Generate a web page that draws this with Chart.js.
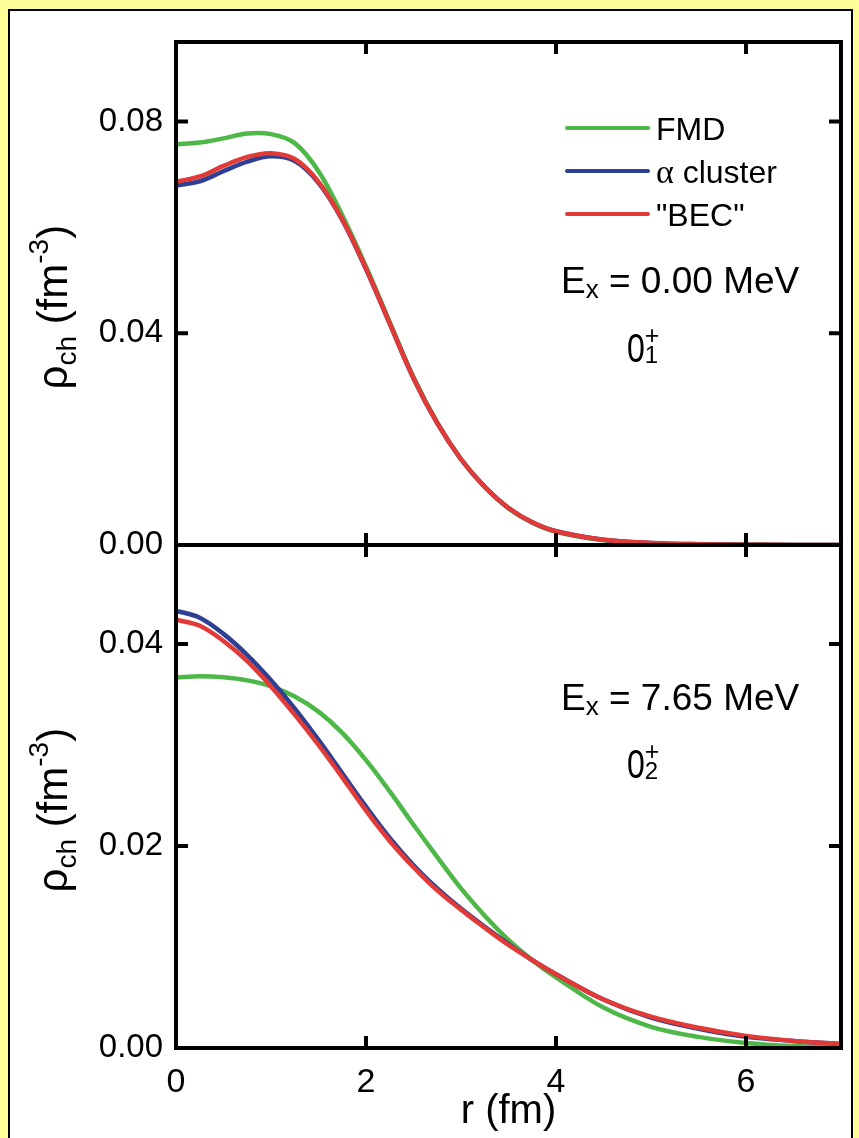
<!DOCTYPE html>
<html>
<head>
<meta charset="utf-8">
<script src="https://cdn.jsdelivr.net/npm/chart.js@4.4.1/dist/chart.umd.min.js"></script>
<style>
  html, body { margin: 0; padding: 0; }
  body { background: #ffff99; width: 859px; height: 1138px; overflow: hidden; position: relative; }
  #panel { position: absolute; left: 8px; top: 9px; width: 841px; height: 1140px; background: #fff; border: 2px solid #000; }
  canvas { position: absolute; left: 0; }
  #topChart { top: 0; }
  #botChart { top: 510px; }
</style>
</head>
<body>
<div id="panel"></div>
<canvas id="topChart" width="859" height="580"></canvas>
<canvas id="botChart" width="859" height="628"></canvas>
<script>
'use strict';

// radius in fm
const radius = [0, 0.25, 0.5, 0.75, 1, 1.25, 1.5, 1.75, 2, 2.25, 2.5, 2.75, 3, 3.25, 3.5, 3.75, 4,
  4.5, 5, 5.5, 6, 6.5, 7];

const seriesNames = ['FMD', 'α cluster', '"BEC"'];
const seriesColors = ['#4db848', '#2e3f94', '#e23a36'];

// ground state, Ex = 0.00 MeV
const fmdGround = [0.0757, 0.0760, 0.0768, 0.0777, 0.0776, 0.0759, 0.0706, 0.0623, 0.0526, 0.0421, 0.0317, 0.0231, 0.0162, 0.0109, 0.0069, 0.0042, 0.0025,
  0.0009, 0.0003, 0.0001, 0.00003, 0.00001, 0];
const alphaGround = [0.0679, 0.0687, 0.0706, 0.0724, 0.0734, 0.0725, 0.0684, 0.0614, 0.0521, 0.0418, 0.0315, 0.0230, 0.0162, 0.0110, 0.0070, 0.0043, 0.0026,
  0.0010, 0.0004, 0.00015, 0.00005, 0.00002, 0];
const becGround = [0.0686, 0.0696, 0.0716, 0.0733, 0.0740, 0.0729, 0.0686, 0.0615, 0.0522, 0.0418, 0.0315, 0.0230, 0.0162, 0.0110, 0.0070, 0.0043, 0.0026,
  0.0010, 0.0004, 0.00015, 0.00005, 0.00002, 0];

// Hoyle state, Ex = 7.65 MeV
const fmdHoyle = [0.0367, 0.0368, 0.0367, 0.0364, 0.0358, 0.0348, 0.0333, 0.0312, 0.0285, 0.0254, 0.0221, 0.0189, 0.0158, 0.0131, 0.0107, 0.0087, 0.0070,
  0.0040, 0.0021, 0.0011, 0.0005, 0.0002, 0.0001];
const alphaHoyle = [0.0433, 0.0426, 0.0410, 0.0389, 0.0364, 0.0336, 0.0305, 0.0272, 0.0239, 0.0208, 0.0181, 0.0158, 0.0138, 0.0120, 0.0103, 0.0087, 0.0073,
  0.0048, 0.0030, 0.0019, 0.0011, 0.0007, 0.0004];
const becHoyle = [0.0424, 0.0418, 0.0403, 0.0383, 0.0358, 0.0330, 0.0300, 0.0268, 0.0235, 0.0205, 0.0179, 0.0156, 0.0137, 0.0119, 0.0102, 0.0087, 0.0073,
  0.0048, 0.0031, 0.0020, 0.0012, 0.0007, 0.0004];

const xTicks = [0, 2, 4, 6];
const topTicks = [0, 0.04, 0.08];
const botTicks = [0, 0.02, 0.04];
const energies = ['0.00', '7.65'];
const stateIndex = ['1', '2'];

const SANS = "'Liberation Sans', Arial, Helvetica, sans-serif";
const SERIF = "'Liberation Serif', 'Times New Roman', serif";
Chart.defaults.font.family = SANS;
Chart.defaults.color = '#000';

// draw a row of text pieces (sub/superscripts, mixed fonts)
function drawRich(ctx, x, y, parts) {
  let cx = x;
  parts.forEach(p => {
    ctx.save();
    ctx.font = p.size + 'px ' + (p.family || SANS);
    const w = ctx.measureText(p.t).width * (p.sx || 1);
    ctx.translate(cx, y + (p.dy || 0));
    ctx.scale(p.sx || 1, 1);
    ctx.fillText(p.t, 0, 0);
    ctx.restore();
    if (!p.stay) cx += w;
  });
}

const decoPlugin = {
  id: 'deco',
  afterDraw(chart, args, opts) {
    const ctx = chart.ctx;
    const a = chart.chartArea;
    const xs = chart.scales.x, ys = chart.scales.y;
    ctx.save();
    ctx.strokeStyle = '#000';
    ctx.fillStyle = '#000';
    ctx.lineWidth = 4;
    ctx.strokeRect(a.left, a.top, a.right - a.left, a.bottom - a.top);

    // inward ticks on all four sides
    ctx.beginPath();
    xTicks.forEach(v => {
      if (v <= xs.min || v >= xs.max) return;
      const px = xs.getPixelForValue(v);
      ctx.moveTo(px, a.bottom); ctx.lineTo(px, a.bottom - 12);
      ctx.moveTo(px, a.top); ctx.lineTo(px, a.top + 12);
    });
    opts.yTicks.forEach(v => {
      if (v <= ys.min || v >= ys.max) return;
      const py = ys.getPixelForValue(v);
      ctx.moveTo(a.left, py); ctx.lineTo(a.left + 12, py);
      ctx.moveTo(a.right, py); ctx.lineTo(a.right - 12, py);
    });
    ctx.stroke();

    ctx.textAlign = 'left';
    ctx.textBaseline = 'alphabetic';

    // y axis title, rotated
    const cy = (a.top + a.bottom) / 2;
    ctx.save();
    ctx.translate(67, cy + 96);
    ctx.rotate(-Math.PI / 2);
    drawRich(ctx, 0, 0, [
      {t: 'ρ', size: 42},
      {t: 'ch', size: 28, dy: 9},
      {t: ' (fm', size: 42},
      {t: '-3', size: 28, dy: -19},
      {t: ')', size: 42}
    ]);
    ctx.restore();

    // legend
    if (opts.legend) {
      chart.data.datasets.forEach((ds, i) => {
        const ly = a.top + 86 + i * 43;
        ctx.strokeStyle = ds.borderColor;
        ctx.lineWidth = 4;
        ctx.lineCap = 'round';
        ctx.beginPath();
        ctx.moveTo(a.left + 391, ly);
        ctx.lineTo(a.left + 472, ly);
        ctx.stroke();
        const parts = ds.label.startsWith('α')
          ? [{t: 'α', size: 34, family: SERIF}, {t: ds.label.slice(1), size: 32}]
          : [{t: ds.label, size: 32}];
        drawRich(ctx, a.left + 480, ly + 12, parts);
      });
    }

    // state annotation
    drawRich(ctx, a.left + 385, a.top + opts.eY, [
      {t: 'E', size: 37},
      {t: 'x', size: 26, dy: 5},
      {t: ' = ' + opts.energy + ' MeV', size: 37}
    ]);
    drawRich(ctx, a.left + 451, a.top + opts.sY, [
      {t: '0', size: 41, sx: 0.78},
      {t: '+', size: 25, dy: -18, stay: true},
      {t: opts.state, size: 24, dy: 1}
    ]);

    // x axis title
    if (opts.xTitle) {
      ctx.font = '40px ' + SANS;
      ctx.textAlign = 'center';
      ctx.textBaseline = 'middle';
      ctx.fillText('r (fm)', (a.left + a.right) / 2, a.bottom + 64);
    }
    ctx.restore();
  }
};

function makePanel(id, values, yMax, yTicks, pad, deco) {
  const showX = deco.xTitle;
  return new Chart(document.getElementById(id).getContext('2d'), {
    type: 'line',
    data: {
      datasets: seriesNames.map((name, i) => ({
        label: name,
        data: radius.map((r, k) => ({x: r, y: values[i][k]})),
        borderColor: seriesColors[i],
        borderWidth: 4.5,
        pointRadius: 0,
        fill: false,
        tension: 0.35,
        order: seriesNames.length - i
      }))
    },
    options: {
      responsive: false,
      animation: false,
      layout: {padding: pad},
      plugins: {legend: {display: false}, tooltip: {enabled: false}, deco: Object.assign({yTicks: yTicks}, deco)},
      scales: {
        x: {
          type: 'linear', min: 0, max: 7,
          afterBuildTicks: s => { s.ticks = xTicks.map(v => ({value: v})); },
          afterFit: s => { s.height = showX ? 90 : 0; },
          grid: {display: false, drawTicks: false},
          border: {display: false},
          ticks: {display: showX, font: {size: 34}, padding: 14}
        },
        y: {
          type: 'linear', min: 0, max: yMax,
          afterBuildTicks: s => { s.ticks = yTicks.map(v => ({value: v})); },
          afterFit: s => { s.width = 176; },
          grid: {display: false, drawTicks: false},
          border: {display: false},
          ticks: {font: {size: 33}, padding: 13, callback: v => v.toFixed(2)}
        }
      }
    },
    plugins: [decoPlugin]
  });
}

makePanel('topChart', [fmdGround, alphaGround, becGround], 0.095, topTicks,
  {left: 0, right: 18, top: 42, bottom: 35},
  {legend: true, energy: energies[0], state: stateIndex[0], eY: 251, sY: 320, xTitle: false});

makePanel('botChart', [fmdHoyle, alphaHoyle, becHoyle], 0.0498, botTicks,
  {left: 0, right: 18, top: 35, bottom: 0},
  {legend: false, energy: energies[1], state: stateIndex[1], eY: 165, sY: 233, xTitle: true});
</script>
</body>
</html>
